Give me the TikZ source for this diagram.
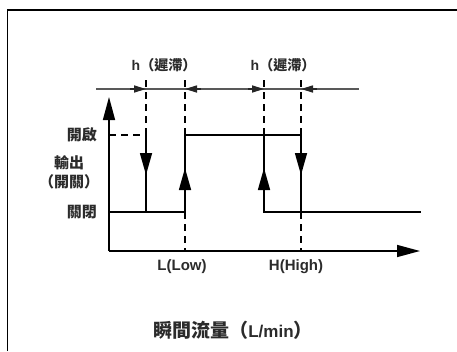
\documentclass[tikz,border=0pt]{standalone}
\usepackage{fontspec}
\setmainfont{Liberation Sans}
\newfontfamily\cjk{Noto Sans CJK TC}
\usetikzlibrary{arrows.meta}
\definecolor{ink}{HTML}{2B2B2B}

\begin{document}
\begin{tikzpicture}[
  x=1pt, y=-1pt,
  axis/.style={line width=1.5pt, -{Triangle[length=23pt,width=12pt]}},
  lvl/.style={line width=1.5pt},
  guide/.style={line width=1.5pt, dash pattern=on 7pt off 5pt},
  flip/.style={line width=1.5pt, -{Triangle[length=22pt,width=12pt]}},
  band/.style={line width=1.6pt, draw=black!65},
  pin/.style={line width=1.6pt, draw=black!85, -{Triangle[length=12pt,width=7pt]}},
  lbl/.style={text=ink, inner sep=0pt}
]
\useasboundingbox (0,0) rectangle (457,351);
\draw[line width=1.6pt] (7.5,351) -- (7.5,10) -- (457,10);

% axes
\coordinate (O) at (109,251);
\coordinate (ytop) at (109,97);
\coordinate (xend) at (420,251);
\draw[axis] (O) -- (ytop);
\draw[axis] (O) -- (xend);

% hysteresis band
\coordinate (bandL) at (96,89);
\coordinate (bandR) at (359,89);
\draw[band] (bandL) -- (bandR);
\draw[pin] (130,89) -- (146,89);
\draw[pin] (201,89) -- (185,89);
\draw[pin] (248,89) -- (264,89);
\draw[pin] (317,89) -- (301,89);

% guides
\foreach \x in {146,185,264,301}
  \draw[guide] (\x,80) -- (\x,135);
\foreach \x in {185,301}
  \draw[guide] (\x,212) -- (\x,251);
\draw[guide] (109,135) -- (146,135);

% output levels
\draw[lvl] (109,212) -- (185,212) -- (185,135) -- (301,135) -- (301,212);
\draw[lvl] (146,135) -- (146,212);
\draw[lvl] (264,135) -- (264,212) -- (421,212);

\draw[flip] (146,150) -- (146,175);
\draw[flip] (185,194) -- (185,168);
\draw[flip] (264,194) -- (264,168);
\draw[flip] (301,150) -- (301,175);

% labels
\node[lbl, font=\bfseries\fontsize{14}{16}\selectfont] (hL) at (164,65) {h\cjk（遲滯）};
\node[lbl, font=\bfseries\fontsize{14}{16}\selectfont] (hH) at (283,65) {h\cjk（遲滯）};
\node[lbl, font=\cjk\bfseries\fontsize{15}{19}\selectfont, anchor=east] (on) at (97,135) {開啟};
\node[lbl, font=\cjk\bfseries\fontsize{15}{19}\selectfont, anchor=east] (off) at (97,212) {關閉};
\node[lbl, font=\cjk\bfseries\fontsize{15}{19}\selectfont, align=center] (out) at (69,172) {輸出\\（開關）};
\node[lbl, font=\bfseries\fontsize{15}{18}\selectfont] (low) at (182,267) {L(Low)};
\node[lbl, font=\bfseries\fontsize{15}{18}\selectfont] (high) at (296,267) {H(High)};
\node[lbl, font=\bfseries\fontsize{17}{20}\selectfont] (flow) at (233,330)
  {{\cjk\fontsize{19}{20}\selectfont 瞬間流量（}L/min{\cjk\fontsize{19}{20}\selectfont ）}};
\end{tikzpicture}
\end{document}
